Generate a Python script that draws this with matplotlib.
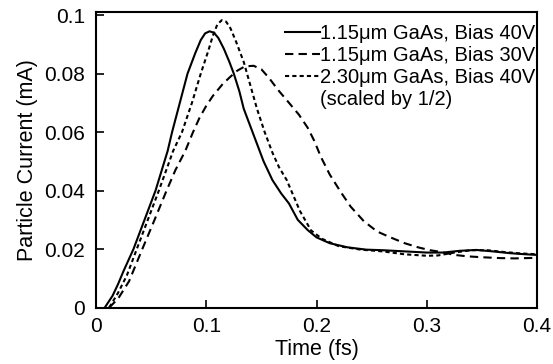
import matplotlib
matplotlib.use('Agg')
import matplotlib.pyplot as plt

plt.rcParams['font.family'] = ['Liberation Sans', 'DejaVu Sans']
plt.rcParams['font.size'] = 14.5

# Values
# 1.15um GaAs, Bias 40V
t_a = [0.008, 0.015, 0.02, 0.025, 0.034, 0.044, 0.054, 0.065, 0.069, 0.076,
       0.083, 0.090, 0.095, 0.099, 0.103, 0.107, 0.111, 0.116, 0.121, 0.125,
       0.130, 0.134, 0.140, 0.146, 0.152, 0.160, 0.168, 0.175, 0.183, 0.192,
       0.200, 0.212, 0.228, 0.245, 0.260, 0.280, 0.300, 0.315, 0.330, 0.345,
       0.360, 0.375, 0.390, 0.400]
i_a = [0.0, 0.004, 0.008, 0.0125, 0.020, 0.030, 0.040, 0.0536, 0.060, 0.070,
       0.080, 0.0870, 0.0915, 0.0938, 0.0945, 0.0940, 0.0922, 0.0885, 0.0840, 0.080,
       0.0740, 0.0680, 0.0620, 0.0560, 0.050, 0.0436, 0.0390, 0.0356, 0.030, 0.0265,
       0.024, 0.022, 0.0206, 0.0198, 0.0196, 0.0192, 0.0188, 0.0188, 0.0194, 0.0197,
       0.0192, 0.0186, 0.0182, 0.018]

# 1.15um GaAs, Bias 30V
t_b = [0.012, 0.02, 0.03, 0.042, 0.052, 0.064, 0.072, 0.081, 0.088, 0.094,
       0.100, 0.106, 0.115, 0.122, 0.128, 0.135, 0.143, 0.150, 0.157, 0.165,
       0.176, 0.184, 0.192, 0.198, 0.204, 0.212, 0.222, 0.231, 0.243, 0.255,
       0.267, 0.280, 0.292, 0.303, 0.313, 0.325, 0.337, 0.350, 0.367, 0.380,
       0.400]
i_b = [0.0, 0.003, 0.009, 0.020, 0.029, 0.040, 0.047, 0.0536, 0.060, 0.065,
       0.069, 0.0724, 0.0765, 0.079, 0.081, 0.0825, 0.0827, 0.0815, 0.0785, 0.0745,
       0.0696, 0.066, 0.0615, 0.057, 0.0515, 0.0455, 0.0395, 0.0345, 0.0295, 0.026,
       0.024, 0.022, 0.0206, 0.0196, 0.019, 0.018, 0.0175, 0.0172, 0.0169, 0.0168,
       0.017]

# 2.30um GaAs, Bias 40V (scaled by 1/2)
t_c = [0.012, 0.02, 0.028, 0.036, 0.045, 0.057, 0.070, 0.078, 0.087, 0.095,
       0.102, 0.106, 0.110, 0.114, 0.118, 0.122, 0.127, 0.134, 0.140, 0.146,
       0.153, 0.160, 0.166, 0.173, 0.185, 0.195, 0.205, 0.220, 0.240, 0.260,
       0.280, 0.300, 0.310, 0.325, 0.340, 0.355, 0.370, 0.385, 0.400]
i_c = [0.0, 0.005, 0.011, 0.019, 0.028, 0.040, 0.0536, 0.060, 0.070, 0.080,
       0.0880, 0.0930, 0.0968, 0.0983, 0.0978, 0.0955, 0.0910, 0.0840, 0.0760, 0.0680,
       0.0600, 0.0530, 0.0480, 0.0436, 0.033, 0.0264, 0.0235, 0.021, 0.0198, 0.0192,
       0.0182, 0.0177, 0.0178, 0.0188, 0.0196, 0.0196, 0.019, 0.0185, 0.0182]

labels = ['1.15\u03bcm GaAs, Bias 40V', '1.15\u03bcm GaAs, Bias 30V',
          '2.30\u03bcm GaAs, Bias 40V', '(scaled by 1/2)']
x_ticks = [0, 0.1, 0.2, 0.3, 0.4]
x_tick_labels = ['0', '0.1', '0.2', '0.3', '0.4']
y_ticks = [0, 0.02, 0.04, 0.06, 0.08, 0.1]
y_tick_labels = ['0', '0.02', '0.04', '0.06', '0.08', '0.1']

fig = plt.figure(figsize=(5.53, 3.64), dpi=100)
ax = fig.add_axes([0.1736, 0.1552, 0.7975, 0.8118])

ax.plot(t_a, i_a, color='k', lw=1.5, label=labels[0])
ax.plot(t_b, i_b, color='k', lw=1.5, linestyle=(0, (4, 2.5)), label=labels[1])
ax.plot(t_c, i_c, color='k', lw=1.5, linestyle=(0, (2, 1.5)), label=labels[2])
# empty entry so the note sits on its own line under the third label
ax.plot([], [], color='none', label=labels[3])

ax.set_xlim(0, 0.4)
ax.set_ylim(0, 0.1011)
ax.set_xticks(x_ticks)
ax.set_xticklabels(x_tick_labels, fontsize=15)
ax.set_yticks(y_ticks)
ax.set_yticklabels(y_tick_labels, fontsize=15)
ax.tick_params(direction='in', length=6, width=1.2, top=False, right=False)
ax.tick_params(axis='x', pad=7)
ax.tick_params(axis='y', pad=8)
for s in ax.spines.values():
    s.set_linewidth(1.5)

ax.set_xlabel('Time (fs)', fontsize=15.5, labelpad=2)
ax.set_ylabel('Particle Current (mA)', fontsize=15.5, labelpad=4)

ax.legend(loc='upper right', bbox_to_anchor=(1.0, 0.965), frameon=False,
          handlelength=1.75, handletextpad=0.0, labelspacing=0.15,
          borderaxespad=0.0, borderpad=0.1)

fig.savefig('out.png', dpi=100)
